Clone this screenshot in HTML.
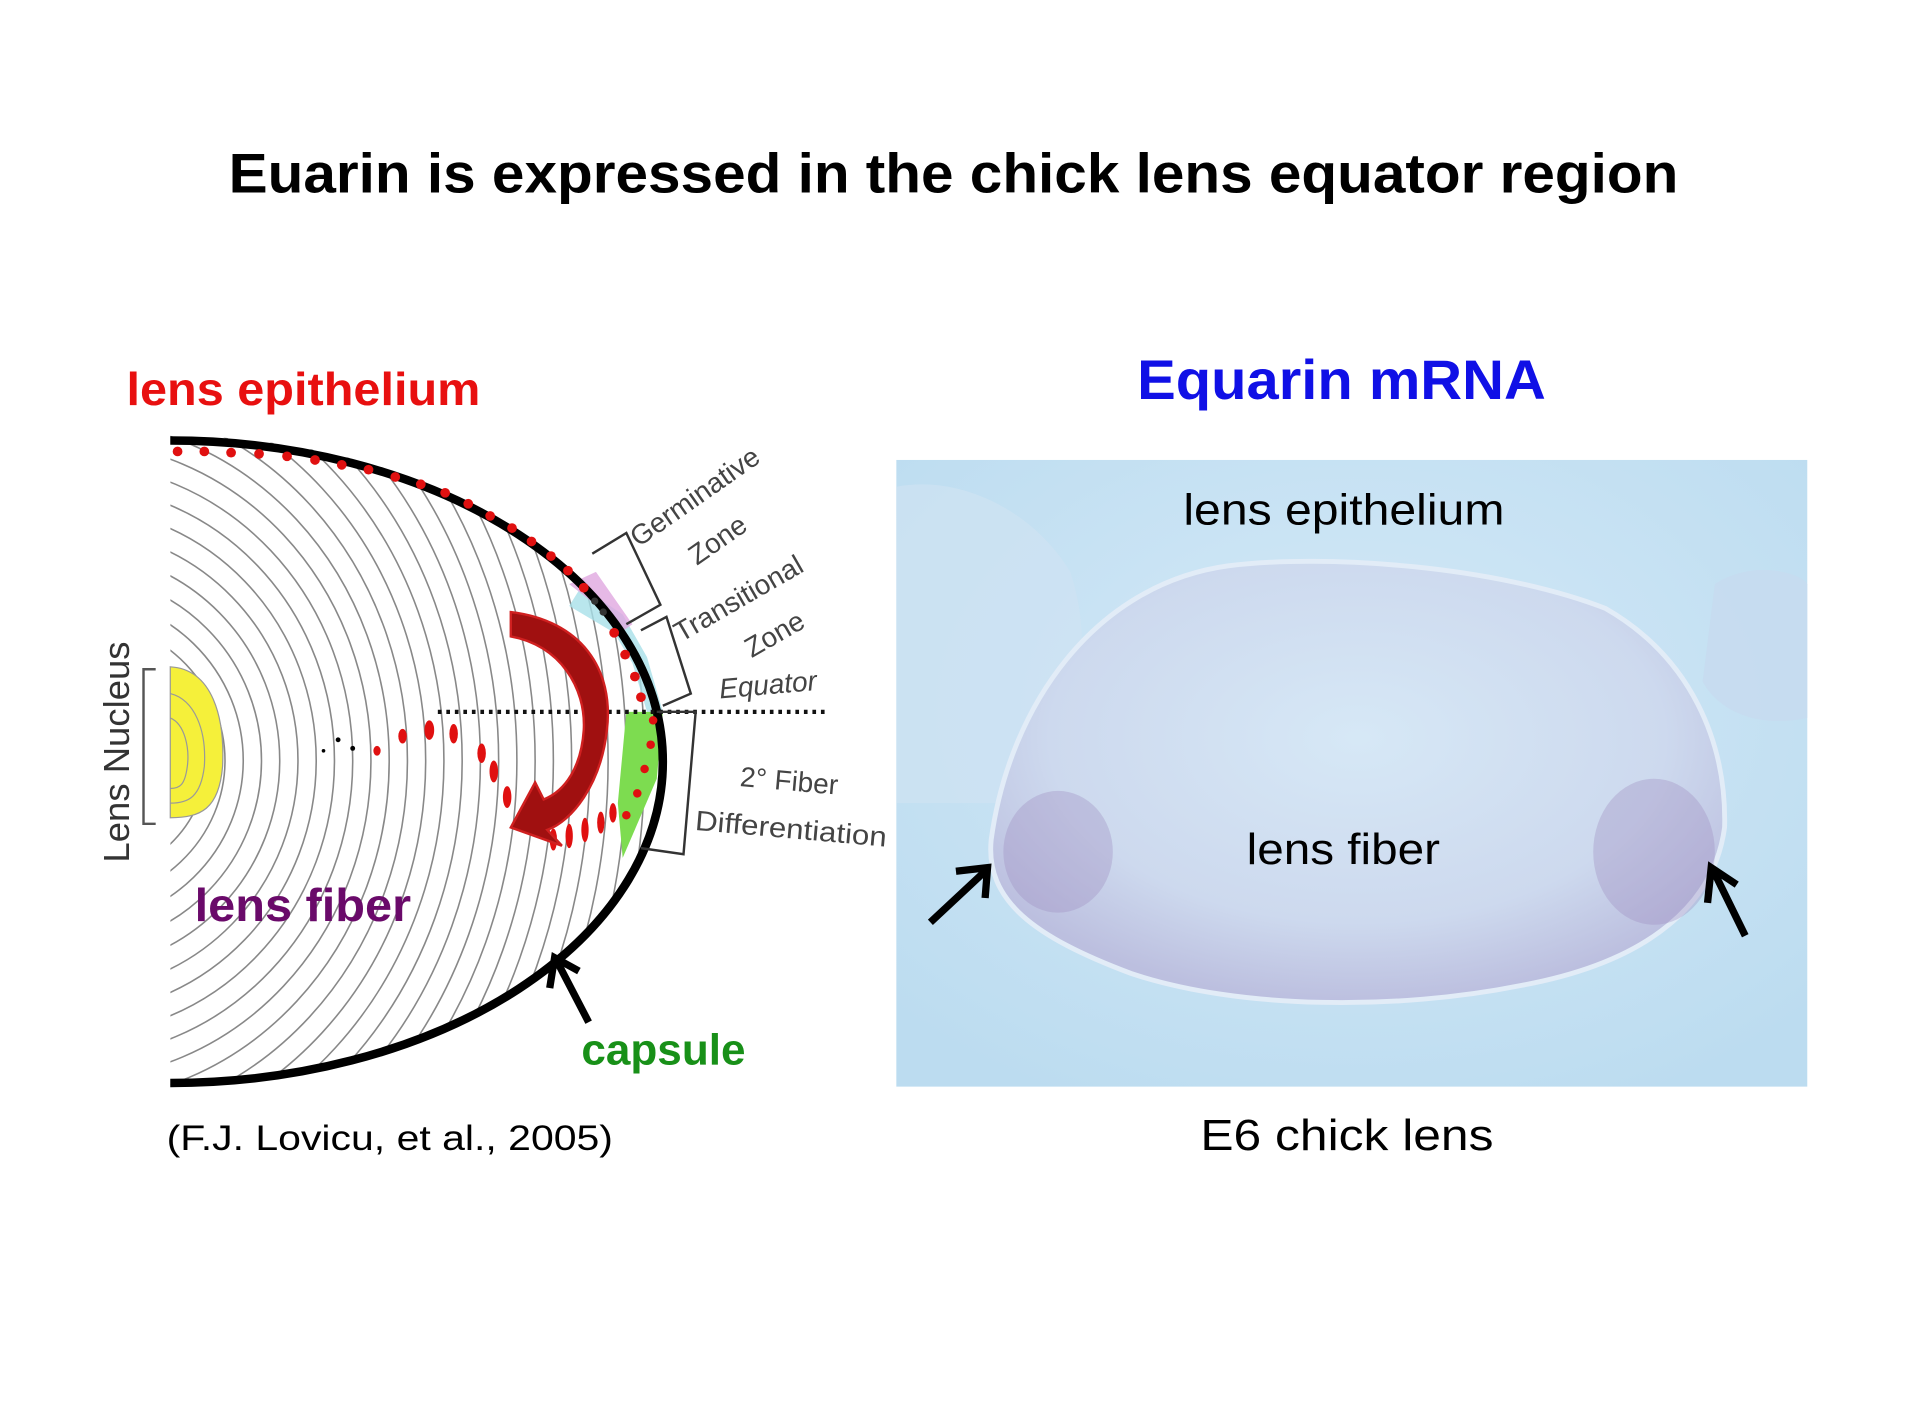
<!DOCTYPE html>
<html><head><meta charset="utf-8"><style>
html,body{margin:0;padding:0;background:#fff;}
svg{display:block;}
text{font-family:"Liberation Sans",Arial,sans-serif;}
</style></head><body>
<svg width="1907" height="1403" viewBox="0 0 1568 1153" preserveAspectRatio="none" xmlns="http://www.w3.org/2000/svg">
<defs>
<clipPath id="lens"><path d="M140,358 A405,267 0 0 1 140,892 Z"/></clipPath>
<radialGradient id="bg" cx="50%" cy="40%" r="70%"><stop offset="0" stop-color="#d4e9f7"/><stop offset="1" stop-color="#bcdcf0"/></radialGradient>
<radialGradient id="lensg" cx="50%" cy="40%" r="60%"><stop offset="0" stop-color="#d6e8f6"/><stop offset="0.7" stop-color="#cdd9ee"/><stop offset="1" stop-color="#bcbfdf"/></radialGradient>
</defs>
<text x="784" y="158" font-size="46" font-weight="bold" text-anchor="middle" textLength="1192" lengthAdjust="spacingAndGlyphs">Euarin is expressed in the chick lens equator region</text>
<text x="104" y="333" font-size="38" font-weight="bold" fill="#e81010" textLength="291" lengthAdjust="spacingAndGlyphs">lens epithelium</text>
<text x="935" y="328" font-size="46" font-weight="bold" fill="#1010e6" textLength="336" lengthAdjust="spacingAndGlyphs">Equarin mRNA</text>

<!-- left diagram -->
<g clip-path="url(#lens)" fill="none" stroke="#888" stroke-width="1.3">
<ellipse cx="60" cy="625" rx="110" ry="100"/><ellipse cx="60" cy="625" rx="125" ry="118"/><ellipse cx="60" cy="625" rx="140" ry="136"/>
<ellipse cx="60" cy="625" rx="155" ry="154"/><ellipse cx="60" cy="625" rx="170" ry="172"/><ellipse cx="60" cy="625" rx="185" ry="190"/>
<ellipse cx="60" cy="625" rx="200" ry="208"/><ellipse cx="60" cy="625" rx="215" ry="226"/><ellipse cx="60" cy="625" rx="230" ry="244"/>
<ellipse cx="60" cy="625" rx="245" ry="262"/><ellipse cx="60" cy="625" rx="260" ry="280"/><ellipse cx="60" cy="625" rx="275" ry="298"/>
<ellipse cx="60" cy="625" rx="290" ry="316"/><ellipse cx="60" cy="625" rx="305" ry="334"/><ellipse cx="60" cy="625" rx="320" ry="352"/>
<ellipse cx="60" cy="625" rx="335" ry="370"/><ellipse cx="60" cy="625" rx="350" ry="388"/><ellipse cx="60" cy="625" rx="365" ry="406"/>
<ellipse cx="60" cy="625" rx="380" ry="424"/><ellipse cx="60" cy="625" rx="395" ry="442"/><ellipse cx="60" cy="625" rx="410" ry="460"/>
<ellipse cx="60" cy="625" rx="425" ry="478"/><ellipse cx="60" cy="625" rx="440" ry="496"/><ellipse cx="60" cy="625" rx="455" ry="514"/>
<ellipse cx="60" cy="625" rx="470" ry="532"/><ellipse cx="60" cy="625" rx="485" ry="550"/>
</g>
<path d="M140,548 C175,550 185,590 183,630 C180,665 165,672 140,672 Z" fill="#f5f03a" stroke="#999" stroke-width="1"/>
<path d="M140,570 C160,575 170,600 168,630 C165,655 155,660 140,660" fill="none" stroke="#999"/>
<path d="M140,590 C152,595 156,615 154,630 C152,645 148,648 140,648" fill="none" stroke="#999"/>
<path d="M128,550 L118,550 L118,677 L128,677" fill="none" stroke="#555" stroke-width="2"/>
<text x="106" y="618" font-size="30" fill="#333" text-anchor="middle" transform="rotate(-90 106 618)">Lens Nucleus</text>
<path d="M468,498 L505,520 L520,545 L532,585 L545,585 L532,540 L512,505 L478,482 Z" fill="#a8e0e8" opacity="0.8"/>
<path d="M468,480 L500,505 L510,520 L520,513 L490,470 Z" fill="#e0a8e0" opacity="0.8"/>
<path d="M515,585 L545,585 L540,640 L512,705 L508,660 Z" fill="#7ddc50"/>
<path d="M140,362 A405,264 0 0 1 140,890" fill="none" stroke="#000" stroke-width="7"/>
<g fill="#e01010">
<circle cx="146" cy="371" r="4"/><circle cx="168" cy="371" r="4"/><circle cx="190" cy="372" r="4"/><circle cx="213" cy="373" r="4"/><circle cx="236" cy="375" r="4"/><circle cx="259" cy="378" r="4"/><circle cx="281" cy="382" r="4"/><circle cx="303" cy="386" r="4"/><circle cx="325" cy="392" r="4"/><circle cx="346" cy="398" r="4"/><circle cx="366" cy="405" r="4"/><circle cx="385" cy="414" r="4"/><circle cx="403" cy="424" r="4"/><circle cx="421" cy="434" r="4"/><circle cx="437" cy="445" r="4"/><circle cx="453" cy="457" r="4"/><circle cx="467" cy="469" r="4"/><circle cx="480" cy="483" r="4"/><circle cx="505" cy="520" r="4"/><circle cx="514" cy="538" r="4"/><circle cx="522" cy="556" r="4"/><circle cx="527" cy="573" r="4"/>
<circle cx="537" cy="592" r="3.5"/><circle cx="535" cy="612" r="3.5"/><circle cx="530" cy="632" r="3.5"/><circle cx="524" cy="652" r="3.5"/><circle cx="515" cy="670" r="3.5"/>
<ellipse cx="310" cy="617" rx="3" ry="4"/><ellipse cx="331" cy="605" rx="3.5" ry="6"/><ellipse cx="353" cy="600" rx="4" ry="8"/><ellipse cx="373" cy="603" rx="3.5" ry="8"/><ellipse cx="396" cy="619" rx="3.5" ry="8"/><ellipse cx="406" cy="634" rx="3.5" ry="9"/><ellipse cx="417" cy="655" rx="3.5" ry="9"/><ellipse cx="455" cy="690" rx="3" ry="9"/><ellipse cx="468" cy="687" rx="3" ry="10"/><ellipse cx="481" cy="682" rx="3" ry="10"/><ellipse cx="494" cy="676" rx="3" ry="9"/><ellipse cx="504" cy="668" rx="3" ry="8"/>
</g>
<circle cx="266" cy="617" r="1.5"/><circle cx="278" cy="608" r="2"/><circle cx="290" cy="615" r="2"/>
<circle cx="489" cy="494" r="3" fill="#333"/><circle cx="496" cy="503" r="3" fill="#333"/>
<line x1="360" y1="585" x2="680" y2="585" stroke="#111" stroke-width="3.5" stroke-dasharray="3,4"/>
<path d="M420,503 C478,510 505,550 499,600 C494,645 470,675 450,682 L462,695 L420,680 L440,643 L447,657 C465,650 478,630 480,600 C482,565 460,530 420,523 Z" fill="#a01010" stroke="#d02020" stroke-width="2"/>
<path d="M487,455 L515,438 L543,497 L515,513" fill="none" stroke="#333" stroke-width="2"/>
<path d="M527,518 L548,507 L568,570 L545,580" fill="none" stroke="#333" stroke-width="2"/>
<path d="M540,585 L572,585 L562,702 L527,697" fill="none" stroke="#333" stroke-width="2"/>
<g fill="#444" font-size="23">
<text x="525" y="450" transform="rotate(-35 525 450)">Germinative</text>
<text x="573" y="465" transform="rotate(-35 573 465)">Zone</text>
<text x="560" y="528" transform="rotate(-30 560 528)">Transitional</text>
<text x="618" y="541" transform="rotate(-30 618 541)">Zone</text>
<text x="592" y="574" font-style="italic" transform="rotate(-5 592 574)">Equator</text>
<text x="608" y="646" transform="rotate(5 608 646)">2° Fiber</text>
<text x="571" y="682" transform="rotate(5 571 682)" textLength="158" lengthAdjust="spacingAndGlyphs">Differentiation</text>
</g>
<text x="160" y="757" font-size="38" font-weight="bold" fill="#6a0a6a" textLength="178" lengthAdjust="spacingAndGlyphs">lens fiber</text>
<path d="M484,840 L458,790 M452,812 L456,787 L476,798" fill="none" stroke="#000" stroke-width="6"/>
<text x="478" y="875" font-size="36" font-weight="bold" fill="#189018" textLength="135" lengthAdjust="spacingAndGlyphs">capsule</text>
<text x="137" y="945" font-size="29" textLength="367" lengthAdjust="spacingAndGlyphs">(F.J. Lovicu, et al., 2005)</text>

<rect x="737" y="378" width="749" height="515" fill="url(#bg)"/>
<path d="M737,400 C790,390 850,420 880,470 C900,530 890,600 840,640 L820,660 L737,660 Z" fill="#cfe2f2" opacity="0.7"/>
<path d="M1410,480 C1440,460 1480,470 1486,480 L1486,590 C1440,600 1410,580 1400,560 Z" fill="#c6dcef" opacity="0.9"/>
<path d="M815,690 C830,580 900,480 1010,465 C1090,455 1230,465 1320,500 C1390,540 1420,610 1418,680 C1410,740 1360,790 1250,810 C1150,830 1020,830 930,800 C850,770 810,740 815,690 Z" fill="url(#lensg)" stroke="#e2ecf7" stroke-width="4"/>
<ellipse cx="870" cy="700" rx="45" ry="50" fill="#9d8cc0" opacity="0.35"/>
<ellipse cx="1360" cy="700" rx="50" ry="60" fill="#9d8cc0" opacity="0.35"/>
<text x="973" y="431" font-size="36" textLength="264" lengthAdjust="spacingAndGlyphs">lens epithelium</text>
<text x="1025" y="710" font-size="36" textLength="159" lengthAdjust="spacingAndGlyphs">lens fiber</text>
<path d="M765,758 L810,716 M786,716 L812,713 L810,738" fill="none" stroke="#000" stroke-width="6"/>
<path d="M1435,769 L1410,718 M1404,742 L1407,713 L1428,727" fill="none" stroke="#000" stroke-width="6"/>
<text x="987" y="945" font-size="36" textLength="241" lengthAdjust="spacingAndGlyphs">E6 chick lens</text>
</svg>
</body></html>
